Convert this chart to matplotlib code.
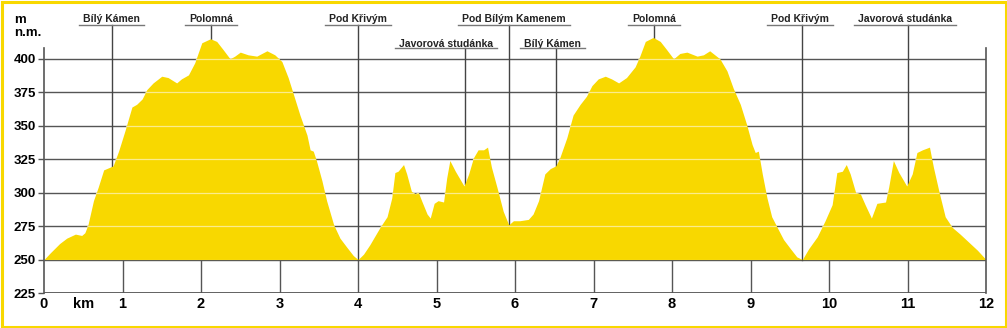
import numpy as np
import matplotlib.pyplot as plt
from matplotlib.patches import Rectangle

# ── elevation profile (km along the route, metres a.s.l.) ─────────
km = [0.00, 0.08, 0.20, 0.29, 0.40, 0.48, 0.52, 0.56, 0.63, 0.69,
      0.76, 0.84, 0.88, 0.95, 1.03, 1.12, 1.18, 1.25, 1.31, 1.39,
      1.50, 1.58, 1.69, 1.75, 1.84, 1.92, 2.01, 2.12, 2.20, 2.28,
      2.37, 2.43, 2.50, 2.60, 2.71, 2.84, 2.94, 3.03, 3.11, 3.18,
      3.26, 3.35, 3.39, 3.43, 3.47, 3.54, 3.60, 3.69, 3.77, 3.86,
      3.94, 4.00, 4.07, 4.15, 4.28, 4.37, 4.43, 4.47, 4.51, 4.58,
      4.62, 4.68, 4.73, 4.77, 4.81, 4.88, 4.92, 4.97, 5.02, 5.09,
      5.13, 5.17, 5.24, 5.30, 5.35, 5.41, 5.47, 5.53, 5.60, 5.65,
      5.70, 5.77, 5.85, 5.92, 5.98, 6.06, 6.17, 6.23, 6.30, 6.38,
      6.45, 6.52, 6.57, 6.66, 6.74, 6.83, 6.91, 6.98, 7.06, 7.15,
      7.23, 7.32, 7.42, 7.53, 7.59, 7.66, 7.76, 7.85, 7.93, 8.02,
      8.10, 8.19, 8.32, 8.40, 8.48, 8.61, 8.70, 8.78, 8.87, 8.95,
      9.02, 9.06, 9.10, 9.15, 9.21, 9.27, 9.34, 9.42, 9.51, 9.59,
      9.66, 9.74, 9.85, 9.95, 10.04, 10.10, 10.17, 10.22, 10.27, 10.34,
      10.40, 10.46, 10.54, 10.61, 10.72, 10.76, 10.82, 10.89, 10.99, 11.06,
      11.12, 11.19, 11.28, 11.33, 11.40, 11.48, 11.57, 11.67, 11.78, 11.89,
      12.00]

elev = [250, 255, 262, 266, 269, 268, 270, 276, 294, 304,
        317, 319, 320, 331, 346, 364, 366, 370, 377, 382,
        387, 386, 382, 385, 388, 397, 412, 415, 413, 407,
        400, 402, 405, 403, 402, 406, 403, 398, 386, 373,
        358, 343, 332, 331, 324, 309, 294, 276, 266, 259,
        253, 250, 254, 261, 274, 282, 296, 315, 316, 321,
        314, 301, 299, 300, 294, 284, 281, 292, 294, 293,
        311, 324, 316, 310, 305, 314, 326, 332, 332, 334,
        319, 304, 286, 276, 279, 279, 280, 284, 294, 314,
        318, 320, 326, 341, 358, 366, 372, 380, 385, 387,
        385, 382, 386, 394, 402, 413, 416, 413, 407, 400,
        404, 405, 402, 403, 406, 400, 391, 378, 366, 351,
        336, 330, 331, 314, 296, 282, 274, 265, 258, 252,
        250, 258, 267, 279, 291, 315, 316, 321, 314, 300,
        299, 291, 281, 292, 293, 304, 324, 315, 305, 314,
        330, 332, 334, 319, 301, 282, 274, 269, 263, 257,
        250]

# waypoints
wp_names = ['Bílý Kámen', 'Polomná', 'Pod Křivým', 'Javorová studánka',
            'Pod Bílým Kamenem', 'Bílý Kámen', 'Polomná', 'Pod Křivým',
            'Javorová studánka']
wp_km = [0.86, 2.13, 4.00, 5.36, 5.92, 6.52, 7.77, 9.66, 11.00]
wp_row = [0, 0, 0, 1, 0, 1, 0, 0, 0]
wp_shift = [0, 0, 0, -0.24, 0.07, -0.04, 0, -0.03, -0.03]   # label offset (km)

yticks = [225, 250, 275, 300, 325, 350, 375, 400]
xticks = list(range(13))

YELLOW = '#f8d800'
GRID = '#555555'

plt.rcParams['font.family'] = ['Liberation Sans', 'DejaVu Sans']

fig = plt.figure(figsize=(10.07, 3.28), dpi=100)
ax = fig.add_axes([44 / 1007, 1 - 293 / 328, 942 / 1007, (293 - 5.3) / 328])
ax.set_xlim(0, 12)
ax.set_ylim(225, 440)
for s in ax.spines.values():
    s.set_visible(False)

# grid (dark on white, pale across the fill)
ax.hlines(yticks[1:], 0, 12, color=GRID, lw=1, zorder=1)
poly = ax.fill_between(km, elev, 250, color=YELLOW, lw=0, zorder=2)
pale = ax.hlines(yticks[1:], 0, 12, color='#fbec8c', lw=0.9, zorder=3)
pale.set_clip_path(poly.get_paths()[0], ax.transData)

# frame lines and km ticks
ax.plot([0, 0], [225, 408.4], color=GRID, lw=1.2, zorder=4, clip_on=False)
ax.plot([12, 12], [225, 408.4], color=GRID, lw=1.2, zorder=4, clip_on=False)
ax.hlines(225, 0, 12, color=GRID, lw=1.3, zorder=4)
ax.vlines(xticks[1:-1], 225, 250, color=GRID, lw=1, zorder=4)

ax.set_yticks(yticks)
ax.set_yticklabels([str(v) for v in yticks], fontweight='bold', fontsize=9.5)
ax.tick_params(axis='y', length=4, width=1, color=GRID, pad=2)
ax.set_xticks(xticks)
ax.set_xticklabels([str(v) for v in xticks], fontweight='bold', fontsize=10.5)
ax.tick_params(axis='x', length=0, pad=3)

ax.annotate('km', xy=(0.5, 225), xytext=(0, -3), textcoords='offset points',
            ha='center', va='top', fontsize=10.5, fontweight='bold')
fig.text(14 / 1007, 1 - 20 / 328, 'm', ha='left', va='center',
         fontsize=9.5, fontweight='bold')
fig.text(14 / 1007, 1 - 33 / 328, 'n.m.', ha='left', va='center',
         fontsize=9.5, fontweight='bold')

# waypoint labels with underline and drop line
base_y = [427.2, 409.1]
under_y = [425.3, 407.9]
texts = []
for name, k, row, sh in zip(wp_names, wp_km, wp_row, wp_shift):
    t = ax.text(k + sh, base_y[row], name, ha='center', va='baseline',
                fontsize=7.5, fontweight='bold', color='#222222')
    texts.append(t)

fig.canvas.draw()
r = fig.canvas.get_renderer()
inv = ax.transData.inverted()
for t, k, row in zip(texts, wp_km, wp_row):
    bb = t.get_window_extent(r)
    x0 = inv.transform((bb.x0 - 4, 0))[0]
    x1 = inv.transform((bb.x1 + 4, 0))[0]
    ax.plot([x0, x1], [under_y[row]] * 2, color='#777777', lw=1, zorder=4)
    ax.plot([k, k], [under_y[row], np.interp(k, km, elev)],
            color='#444444', lw=1, zorder=1.5)

# yellow frame round the picture
fig.add_artist(Rectangle((1.5 / 1007, 1.5 / 328), 1 - 3 / 1007, 1 - 3 / 328,
                         transform=fig.transFigure, fill=False,
                         edgecolor=YELLOW, lw=2.2))

fig.savefig('out.png', dpi=100)
print("Saved: out.png")
